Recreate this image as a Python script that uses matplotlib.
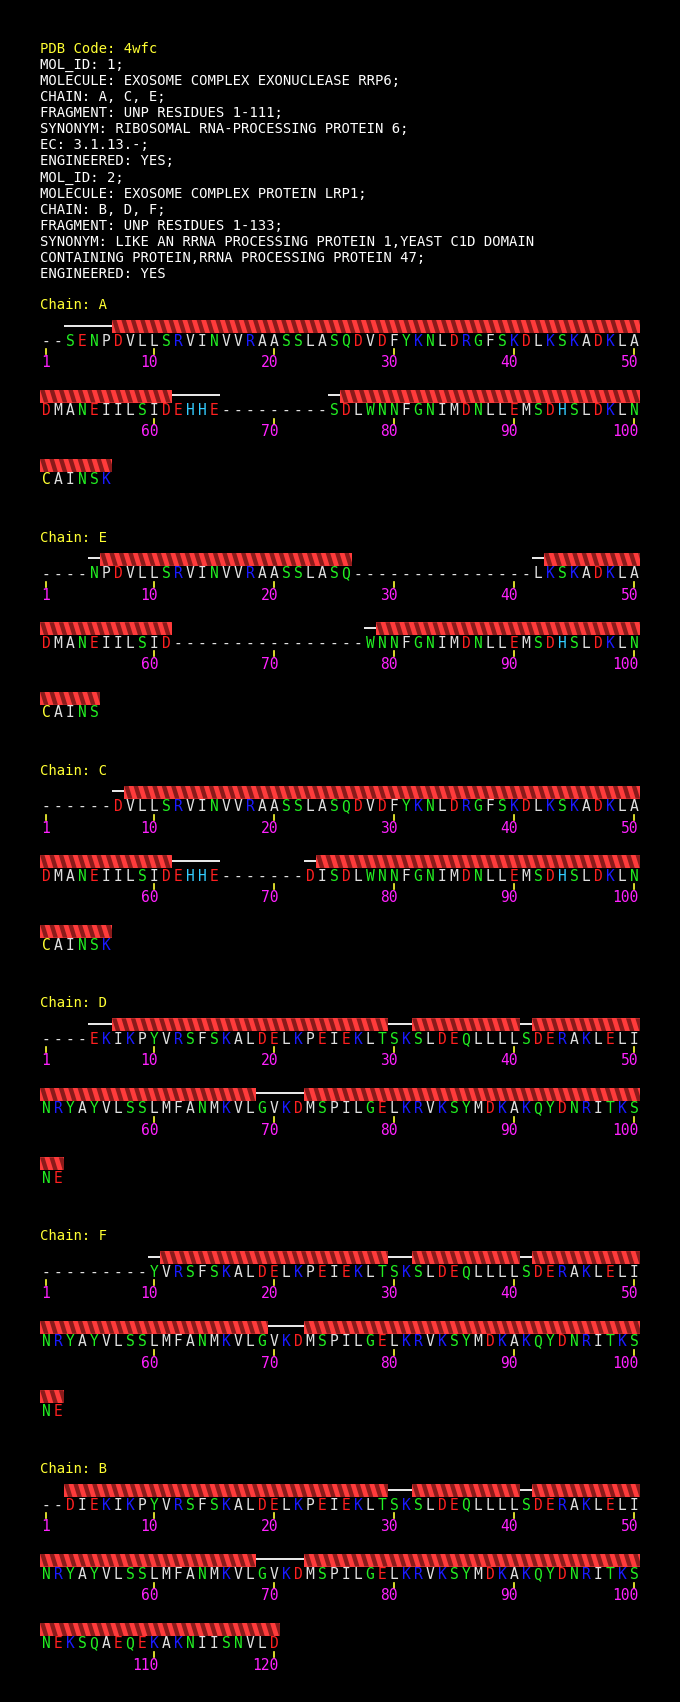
import matplotlib
matplotlib.use("Agg")
import matplotlib.pyplot as plt
from matplotlib.patches import Rectangle, Polygon

# header text
header = [
    "PDB Code: 4wfc",
    "MOL_ID: 1;",
    "MOLECULE: EXOSOME COMPLEX EXONUCLEASE RRP6;",
    "CHAIN: A, C, E;",
    "FRAGMENT: UNP RESIDUES 1-111;",
    "SYNONYM: RIBOSOMAL RNA-PROCESSING PROTEIN 6;",
    "EC: 3.1.13.-;",
    "ENGINEERED: YES;",
    "MOL_ID: 2;",
    "MOLECULE: EXOSOME COMPLEX PROTEIN LRP1;",
    "CHAIN: B, D, F;",
    "FRAGMENT: UNP RESIDUES 1-133;",
    "SYNONYM: LIKE AN RRNA PROCESSING PROTEIN 1,YEAST C1D DOMAIN",
    "CONTAINING PROTEIN,RRNA PROCESSING PROTEIN 47;",
    "ENGINEERED: YES",
]

chain_names = ["A", "E", "C", "D", "F", "B"]

seq_A = ("--SENPDVLLSRVINVVRAASSLASQDVDFYKNLDRGFSKDLKSKADKLA"
         "DMANEIILSIDEHHE---------SDLWNNFGNIMDNLLEMSDHSLDKLN"
         "CAINSK")
seq_E = ("----NPDVLLSRVINVVRAASSLASQ---------------LKSKADKLA"
         "DMANEIILSID----------------WNNFGNIMDNLLEMSDHSLDKLN"
         "CAINS")
seq_C = ("------DVLLSRVINVVRAASSLASQDVDFYKNLDRGFSKDLKSKADKLA"
         "DMANEIILSIDEHHE-------DISDLWNNFGNIMDNLLEMSDHSLDKLN"
         "CAINSK")
lrp1_tail = ("VRSFSKALDELKPEIEKLTSKSLDEQLLLLSDERAKLELI"
             "NRYAYVLSSLMFANMKVLGVKDMSPILGELKRVKSYMDKAKQYDNRITKS")
seq_D = "----EKIKPY" + lrp1_tail + "NE"
seq_F = "---------Y" + lrp1_tail + "NE"
seq_B = "--DIEKIKPY" + lrp1_tail + "NEKSQAEQEKAKNIISNVLD"

# secondary structure: (type, first, last), H = helix, C = coil
ss_A = [("C", 3, 6), ("H", 7, 50), ("H", 51, 61), ("C", 62, 65), ("C", 75, 75),
        ("H", 76, 100), ("H", 101, 106)]
ss_E = [("C", 5, 5), ("H", 6, 26), ("C", 42, 42), ("H", 43, 50), ("H", 51, 61),
        ("C", 78, 78), ("H", 79, 100), ("H", 101, 105)]
ss_C = [("C", 7, 7), ("H", 8, 50), ("H", 51, 61), ("C", 62, 65), ("C", 73, 73),
        ("H", 74, 100), ("H", 101, 106)]
ss_D = [("C", 5, 6), ("H", 7, 29), ("C", 30, 31), ("H", 32, 40), ("C", 41, 41),
        ("H", 42, 50), ("H", 51, 68), ("C", 69, 72), ("H", 73, 100), ("H", 101, 102)]
ss_F = [("C", 10, 10), ("H", 11, 29), ("C", 30, 31), ("H", 32, 40), ("C", 41, 41),
        ("H", 42, 50), ("H", 51, 69), ("C", 70, 72), ("H", 73, 100), ("H", 101, 102)]
ss_B = [("H", 3, 29), ("C", 30, 31), ("H", 32, 40), ("C", 41, 41), ("H", 42, 50),
        ("H", 51, 68), ("C", 69, 72), ("H", 73, 100), ("H", 101, 120)]

seqs = dict(A=seq_A, E=seq_E, C=seq_C, D=seq_D, F=seq_F, B=seq_B)
sss = dict(A=ss_A, E=ss_E, C=ss_C, D=ss_D, F=ss_F, B=ss_B)

RED, BLUE, GREEN = "#ff2020", "#1a1aff", "#22ee22"
res_col = {}
for c in "DE":
    res_col[c] = RED
for c in "KR":
    res_col[c] = BLUE
for c in "STNQGYW":
    res_col[c] = GREEN
res_col["H"] = "#33ccff"
res_col["C"] = "#ffff33"
WHITE = "#e0e0e0"

X0, PITCH, PER_LINE = 46, 12, 50
LINE_DY, CHAIN_DY, CHAIN_Y0 = 69.5, 232.8, 304

fig = plt.figure(figsize=(6.8, 17.02), dpi=100, facecolor="black")
ax = fig.add_axes([0, 0, 1, 1])
ax.set_facecolor("black")
ax.set_xlim(0, 680)
ax.set_ylim(1702, 0)
ax.axis("off")

mono = "DejaVu Sans Mono"

for i, line in enumerate(header):
    ax.text(40, 48 + i * 16.06 + 5, line, color="#ffff33" if i == 0 else "white",
            fontsize=10, family=mono, va="baseline", ha="left")


def xpos(res):
    return X0 + ((res - 1) % PER_LINE) * PITCH


def ypos(res, base):
    return base + ((res - 1) // PER_LINE) * LINE_DY


def draw_helix(x1, x2, yc):
    h = 13
    top, bot = yc - h / 2, yc + h / 2
    rect = Rectangle((x1, top), x2 - x1, h, facecolor="#ff3b3b", edgecolor="none")
    ax.add_patch(rect)
    p = 9.4
    x = x1 - p
    while x < x2 + p:
        poly = Polygon([(x, top), (x + 4.5, top), (x + 8.5, bot), (x + 4, bot)],
                       closed=True, facecolor="#8a1a1a", edgecolor="none")
        ax.add_patch(poly)
        poly.set_clip_path(rect)
        x += p


for k, name in enumerate(chain_names):
    L = CHAIN_Y0 + k * CHAIN_DY
    seq = seqs[name]
    ax.text(40, L + 5, "Chain: " + name, color="#ffff33", fontsize=10,
            family=mono, va="baseline")
    # secondary structure
    for kind, a, b in sss[name]:
        yb = ypos(a, L)
        xa, xb = xpos(a) - 6, xpos(b) + 6
        if kind == "H":
            draw_helix(xa, xb, yb + 22.5)
        else:
            ax.plot([xa, xb], [yb + 21.5, yb + 21.5], color="white", lw=1.3,
                    solid_capstyle="butt")
    # residues
    for i, ch in enumerate(seq):
        r = i + 1
        ax.text(xpos(r), ypos(r, L) + 41.5, ch, color=res_col.get(ch, WHITE),
                fontsize=10.5, family=mono, ha="center", va="baseline")
    # ticks and numbers
    for r in [1] + list(range(10, len(seq) + 1, 10)):
        x, yb = xpos(r), ypos(r, L)
        ax.plot([x, x], [yb + 45, yb + 50], color="#ffff33", lw=1.2)
        ax.text(x + 4, yb + 63, str(r), color="#ff22ff", fontsize=10.5,
                family=mono, ha="right", va="baseline")

fig.savefig("out.png", dpi=100, facecolor="black")
